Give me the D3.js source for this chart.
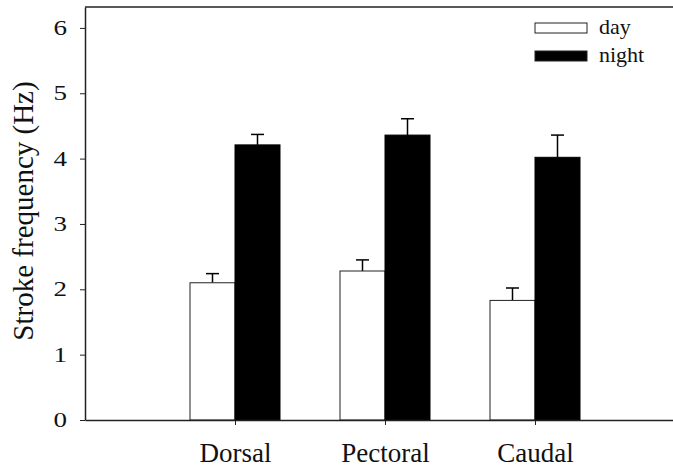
<!DOCTYPE html>
<html>
<head>
<meta charset="utf-8">
<script src="https://cdn.jsdelivr.net/npm/d3@7"></script>
<style>
  body { margin: 0; background: #fff; }
</style>
</head>
<body>
<div id="chart"></div>
<script>
const categories = ["Dorsal", "Pectoral", "Caudal"];
const dayValues = [2.10, 2.28, 1.83];
const dayErrors = [0.14, 0.17, 0.19];
const nightValues = [4.21, 4.36, 4.02];
const nightErrors = [0.16, 0.25, 0.34];
const yTicks = [0, 1, 2, 3, 4, 5, 6];
const seriesNames = ["day", "night"];

const W = 673, H = 467;
const margin = { top: 7, right: 0, bottom: 47, left: 85 };
const serif = '"Liberation Serif", "Times New Roman", serif';

const svg = d3.select("#chart")
    .append("svg")
    .attr("width", W)
    .attr("height", H);

const x = d3.scaleLinear()
    .domain([0, categories.length + 1])
    .range([margin.left, margin.left + 600]);

const y = d3.scaleLinear()
    .domain([0, 6.32])
    .range([H - margin.bottom, margin.top]);

const barW = 0.3; // in category units

const data = categories.map((c, i) => ({
    cat: c,
    pos: i + 1,
    day: dayValues[i], dayErr: dayErrors[i],
    night: nightValues[i], nightErr: nightErrors[i]
}));

// error bars (drawn first, upward only)
function errBars(key, errKey, offset) {
    const g = svg.append("g");
    data.forEach(d => {
        const cx = x(d.pos + offset);
        g.append("line")
            .attr("x1", cx).attr("x2", cx)
            .attr("y1", y(d[key])).attr("y2", y(d[key] + d[errKey]))
            .attr("stroke", "#000").attr("stroke-width", 1.5);
        g.append("line")
            .attr("x1", cx - 6.5).attr("x2", cx + 6.5)
            .attr("y1", y(d[key] + d[errKey])).attr("y2", y(d[key] + d[errKey]))
            .attr("stroke", "#000").attr("stroke-width", 1.5);
    });
}
errBars("day", "dayErr", -barW / 2);
errBars("night", "nightErr", barW / 2);

// day bars
svg.selectAll(".day")
    .data(data)
    .enter()
    .append("rect")
    .attr("x", d => x(d.pos - barW))
    .attr("y", d => y(d.day))
    .attr("width", x(barW) - x(0))
    .attr("height", d => y(0) - y(d.day))
    .attr("fill", "#fff")
    .attr("stroke", "#222")
    .attr("stroke-width", 1);

// night bars
svg.selectAll(".night")
    .data(data)
    .enter()
    .append("rect")
    .attr("x", d => x(d.pos))
    .attr("y", d => y(d.night))
    .attr("width", x(barW) - x(0))
    .attr("height", d => y(0) - y(d.night))
    .attr("fill", "#000")
    .attr("stroke", "#000")
    .attr("stroke-width", 1);

// frame top
svg.append("line")
    .attr("x1", margin.left).attr("x2", W)
    .attr("y1", y(6.32)).attr("y2", y(6.32))
    .attr("stroke", "#222").attr("stroke-width", 1.5);

// y axis
const yAxis = svg.append("g")
    .attr("transform", `translate(${margin.left},0)`)
    .call(d3.axisLeft(y).tickValues(yTicks).tickFormat(d3.format("d"))
        .tickSize(5).tickPadding(13).tickSizeOuter(0));
yAxis.select(".domain").attr("stroke", "#222").attr("stroke-width", 1.5);
yAxis.selectAll(".tick line").attr("stroke", "#222");
yAxis.selectAll(".tick text")
    .attr("x", null)
    .attr("transform", "translate(-18,0) scale(1.35,1)")
    .style("font-family", serif)
    .style("font-size", "20px")
    .attr("fill", "#111");

// x axis
const xAxis = svg.append("g")
    .attr("transform", `translate(0,${y(0)})`)
    .call(d3.axisBottom(x).tickValues([1, 2, 3]).tickFormat(v => categories[v - 1])
        .tickSize(5).tickPadding(18).tickSizeOuter(0));
xAxis.select(".domain").attr("stroke", "#222").attr("stroke-width", 1.5);
xAxis.selectAll(".tick line").attr("stroke", "#222");
xAxis.selectAll(".tick text")
    .style("font-family", serif)
    .style("font-size", "27px")
    .attr("fill", "#111");

// y label
svg.append("text")
    .attr("transform", `translate(33,211) rotate(-90)`)
    .attr("text-anchor", "middle")
    .style("font-family", serif)
    .style("font-size", "29px")
    .attr("fill", "#111")
    .text("Stroke frequency (Hz)");

// legend
const legend = svg.append("g").attr("transform", "translate(535,23)");
seriesNames.forEach((s, i) => {
    legend.append("rect")
        .attr("x", 0).attr("y", i * 28)
        .attr("width", 52).attr("height", 10)
        .attr("fill", i === 0 ? "#fff" : "#000")
        .attr("stroke", "#222");
    legend.append("text")
        .attr("x", 64).attr("y", i * 28 + 11)
        .style("font-family", serif)
        .style("font-size", "22px")
        .attr("fill", "#111")
        .text(s);
});
</script>
</body>
</html>
